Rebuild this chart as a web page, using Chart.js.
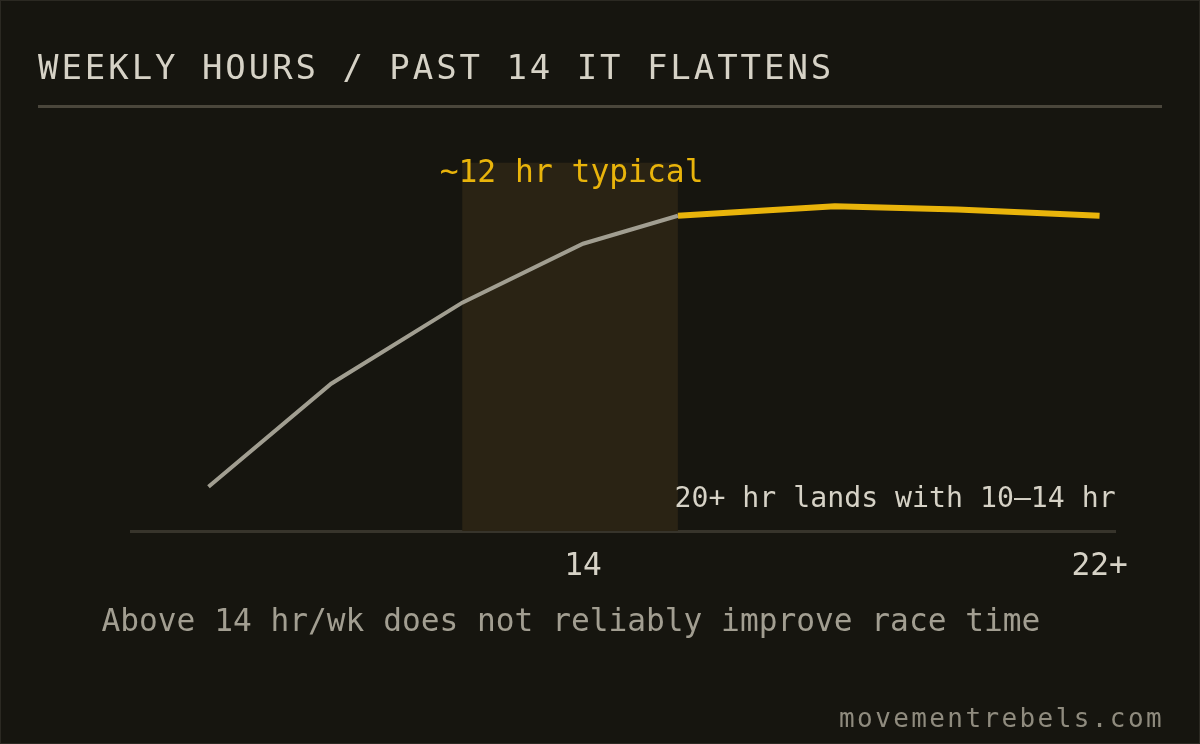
<!DOCTYPE html>
<html>
<head>
<meta charset="utf-8">
<script src="https://cdn.jsdelivr.net/npm/chart.js@4.4.1/dist/chart.umd.min.js"></script>
<style>
  html, body { margin: 0; padding: 0; background: #16150f; }
  #wrap { position: relative; width: 1200px; height: 744px; overflow: hidden; background: #16150f; font-family: "DejaVu Sans Mono", monospace; }
  #wrap canvas { position: absolute; left: 0; top: 0; }
  .frame { position: absolute; inset: 0; border: 1px solid #2b2922; box-sizing: border-box; pointer-events: none; }
  .title { position: absolute; left: 38px; top: 49.5px; font-size: 34px; line-height: 34px; letter-spacing: 2.95px; color: #d6d2c6; white-space: nowrap; }
  .rule { position: absolute; left: 38px; width: 1124px; top: 104.5px; height: 3px; background: #4a463b; }
  .caption { position: absolute; left: 101.5px; top: 605.3px; font-size: 31.2px; line-height: 31.2px; color: #a29e91; white-space: nowrap; }
  .footer { position: absolute; right: 36px; top: 704.5px; font-size: 26px; line-height: 26px; letter-spacing: 2.4px; color: #8f8b7e; white-space: nowrap; }
</style>
</head>
<body>
<div id="wrap">
  <canvas id="chart" width="1200" height="744"></canvas>
  <div class="title">WEEKLY HOURS / PAST 14 IT FLATTENS</div>
  <div class="rule"></div>
  <div class="caption">Above 14 hr/wk does not reliably improve race time</div>
  <div class="footer">movementrebels.com</div>
  <div class="frame"></div>
</div>
<script>
//DATA
const weeklyHours = [8.2, 10.1, 12.13, 14, 15.47, 17.9, 19.8, 22];
const raceGain = [12, 40, 62, 78, 85.6, 88.2, 87.3, 85.6];
const flatFrom = 4; // index where the curve goes flat (gold part)

const tickValues = [14, 22];
const tickLabels = ['14', '22+'];

const typicalBand = [12.13, 15.47];
const bandLabel = '~12 hr typical';
const noteLabel = '20+ hr lands with 10\u201314 hr';

//COLORS
const col_gray = '#a19e91';
const col_gold = '#e9b40b';
const col_band = '#2a2314';
const col_axis = '#37342b';
const col_text = '#d6d2c6';

const FONT = '"DejaVu Sans Mono", monospace';

function toPoints(xs, ys){
    return xs.map((x, i) => ({x: x, y: ys[i]}));
}

//Band behind the line + in-chart notes
const bandPlugin = {
    id: 'bandPlugin',
    beforeDatasetsDraw(chart){
        const ctx = chart.ctx;
        const area = chart.chartArea;
        const sx = chart.scales.x;
        const x0 = sx.getPixelForValue(typicalBand[0]);
        const x1 = sx.getPixelForValue(typicalBand[1]);
        ctx.save();
        ctx.fillStyle = col_band;
        ctx.fillRect(x0, area.top, x1 - x0, area.bottom - area.top);
        ctx.restore();
    },
    afterDatasetsDraw(chart){
        const ctx = chart.ctx;
        const area = chart.chartArea;
        const sx = chart.scales.x;
        const x0 = sx.getPixelForValue(typicalBand[0]);
        const x1 = sx.getPixelForValue(typicalBand[1]);
        ctx.save();
        ctx.textBaseline = 'alphabetic';
        ctx.font = '31.3px ' + FONT;
        ctx.fillStyle = col_gold;
        ctx.textAlign = 'center';
        ctx.fillText(bandLabel, (x0 + x1) / 2 + 1.5, area.top + 19.5);
        ctx.font = '28.2px ' + FONT;
        ctx.fillStyle = col_text;
        ctx.textAlign = 'right';
        ctx.fillText(noteLabel, area.right, area.bottom - 24.5);
        ctx.restore();
    }
};

const chart_data = {
    datasets: [
        {
            data: toPoints(weeklyHours.slice(0, flatFrom + 1), raceGain.slice(0, flatFrom + 1)),
            borderColor: col_gray,
            borderWidth: 4,
            pointRadius: 0,
            tension: 0
        },
        {
            data: toPoints(weeklyHours.slice(flatFrom), raceGain.slice(flatFrom)),
            borderColor: col_gold,
            borderWidth: 6,
            pointRadius: 0,
            tension: 0
        }
    ]
};

const config = {
    type: 'line',
    data: chart_data,
    plugins: [bandPlugin],
    options: {
        responsive: false,
        animation: false,
        events: [],
        layout: {
            padding: { left: 131, right: 84.3, top: 162.7, bottom: 143 }
        },
        plugins: {
            legend: { display: false },
            title: { display: false },
            tooltip: { enabled: false }
        },
        scales: {
            x: {
                type: 'linear',
                min: 7,
                max: 22.25,
                afterFit: (scale) => { scale.height = 70; },
                afterBuildTicks: (scale) => { scale.ticks = tickValues.map(v => ({value: v})); },
                grid: { display: false, drawTicks: false },
                border: { display: true, color: col_axis, width: 3 },
                ticks: {
                    padding: 17,
                    autoSkip: false,
                    maxRotation: 0,
                    color: col_text,
                    font: { family: FONT, size: 31.2 },
                    callback: (value) => tickLabels[tickValues.indexOf(value)]
                }
            },
            y: {
                display: false,
                min: 0,
                max: 100
            }
        }
    }
};

const lineChart = new Chart(document.querySelector('#chart'), config);
</script>
</body>
</html>
